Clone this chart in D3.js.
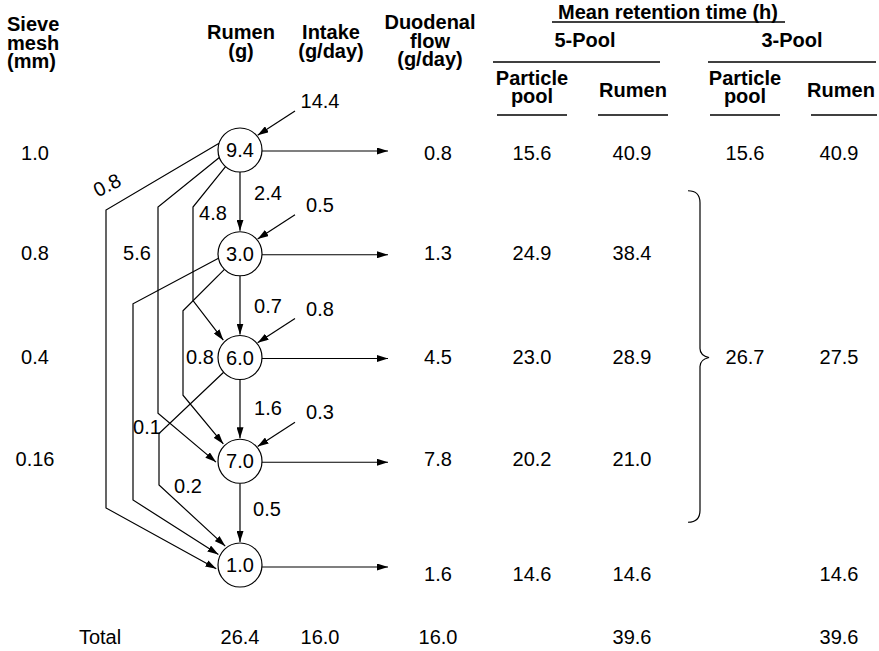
<!DOCTYPE html>
<html><head><meta charset="utf-8">
<script src="https://cdn.jsdelivr.net/npm/d3@7"></script>
<style>body{margin:0;background:#fff}</style>
</head><body>
<svg id="c" width="879" height="651"></svg>
<script>
// ---------------- DATA ----------------
const sieveMesh    = ["1.0", "0.8", "0.4", "0.16"];          // rows 0-3
const rumenPool    = [9.4, 3.0, 6.0, 7.0, 1.0];               // g, pools 0-4
const intake       = [14.4, 0.5, 0.8, 0.3];                   // g/day into pools 0-3
const duodenalFlow = [0.8, 1.3, 4.5, 7.8, 1.6];               // g/day
const mrt5Particle = [15.6, 24.9, 23.0, 20.2, 14.6];
const mrt5Rumen    = [40.9, 38.4, 28.9, 21.0, 14.6];
const mrt3Particle = [15.6, null, 26.7, null, null];          // 26.7 spans rows 1-3
const mrt3Rumen    = [40.9, null, 27.5, null, 14.6];
const totalCols    = ["label", "pool", "intake", "duodenal", "r5", "r3"];
const totalValues  = ["Total", "26.4", "16.0", "16.0", "39.6", "39.6"];
const flows = [
  {from: 0, to: 1, value: 2.4},
  {from: 1, to: 2, value: 0.7},
  {from: 2, to: 3, value: 1.6},
  {from: 3, to: 4, value: 0.5},
  {from: 0, to: 2, value: 4.8},
  {from: 0, to: 3, value: 5.6},
  {from: 0, to: 4, value: 0.8},
  {from: 1, to: 3, value: 0.8},
  {from: 1, to: 4, value: 0.1},
  {from: 2, to: 4, value: 0.2}
];

// ---------------- LAYOUT ----------------
const FONT = '"Liberation Sans", Arial, Helvetica, sans-serif';
const svg = d3.select("#c");
const y = d3.scaleLinear().domain([0, 4]).range([150, 565]);
const rowY = d3.scaleOrdinal().domain([0, 1, 2, 3, 4, "total"]).range([153, 253, 357, 459, 574, 637]);
const x = d3.scaleOrdinal()
  .domain(["sieve", "label", "pool", "intake", "duodenal", "p5", "r5", "p3", "r3"])
  .range([35, 100, 240, 320, 438, 532, 632, 745, 839]);
const R = 22, deg = Math.PI / 180;
const onCircle = (i, a, r = R) => [x("pool") + r * Math.cos(a * deg), y(i) + r * Math.sin(a * deg)];

// routing for flows: start angle, lane offset, bends, end angle, label offset
const routes = {
  "0-1": {label: [28, 43]},
  "1-2": {label: [28, 52]},
  "2-3": {label: [28, 50]},
  "3-4": {label: [27, 48]},
  "0-4": {a0: 198, lane: -134, d1: 60, d2: 57, a1: 171, label: [-133, 35], rot: -27},
  "0-3": {a0: 160, lane: -82,  d1: 57, d2: 48, a1: 178, label: [-103, 103]},
  "0-2": {a0: 131, lane: -47,  d1: 57, d2: 57, a1: 226, label: [-27, 63]},
  "1-3": {a0: 135, lane: -57,  d1: 57, d2: 66, a1: 226, label: [-40, 103]},
  "1-4": {a0: 168, lane: -107, d1: 50, d2: 65, a1: 206, label: [-93, 173]},
  "2-4": {a0: 138, lane: -81,  d1: 76, d2: 80, a1: 232, label: [-52, 128]}
};

svg.append("defs").append("marker")
  .attr("id", "ah").attr("viewBox", "0 0 11 7")
  .attr("refX", 11).attr("refY", 3.5)
  .attr("markerWidth", 11).attr("markerHeight", 7)
  .attr("markerUnits", "userSpaceOnUse").attr("orient", "auto")
  .append("path").attr("d", "M0,0L11,3.5L0,7Z").attr("fill", "#000");

const line = d3.line();
const gLines = svg.append("g").attr("fill", "none").attr("stroke", "#000").attr("stroke-width", 1.2);

// flows between pools
flows.forEach(f => {
  const r = routes[f.from + "-" + f.to];
  let pts;
  if (f.to - f.from === 1) {
    pts = [[x("pool"), y(f.from) + R], [x("pool"), y(f.to) - R - 1]];
  } else {
    const lx = x("pool") + r.lane;
    pts = [onCircle(f.from, r.a0), [lx, y(f.from) + r.d1], [lx, y(f.to) - r.d2], onCircle(f.to, r.a1, R + 2)];
  }
  gLines.append("path").attr("d", line(pts)).attr("marker-end", "url(#ah)");
});

// duodenal outflow arrows
duodenalFlow.forEach((v, i) => {
  const yy = y(i) + (i === 4 ? 2 : 1);
  gLines.append("path").attr("d", line([[x("pool") + R, yy], [388, yy]]))
    .attr("marker-end", "url(#ah)");
});

// intake arrows
intake.forEach((v, i) => {
  gLines.append("path").attr("d", line([[x("pool") + 55, y(i) - 39], onCircle(i, -40, R + 1)]))
    .attr("marker-end", "url(#ah)");
});

// pools
const gNodes = svg.append("g");
gNodes.selectAll("circle").data(rumenPool).join("circle")
  .attr("cx", x("pool")).attr("cy", (d, i) => y(i)).attr("r", R)
  .attr("fill", "#fff").attr("stroke", "#000").attr("stroke-width", 1.2);

const txt = (g, s, cx, cy, opts = {}) => g.append("text")
  .attr("x", cx).attr("y", cy + 7).attr("text-anchor", opts.anchor || "middle")
  .attr("font-family", FONT).attr("font-size", opts.size || 20)
  .attr("font-weight", opts.bold ? "bold" : "normal")
  .attr("transform", opts.rot ? `rotate(${opts.rot},${cx},${cy})` : null)
  .text(s);

const gText = svg.append("g").attr("fill", "#000");
rumenPool.forEach((v, i) => txt(gText, v.toFixed(1), x("pool"), y(i)));

// flow labels
flows.forEach(f => {
  const r = routes[f.from + "-" + f.to];
  txt(gText, f.value.toFixed(1), x("pool") + r.label[0], y(f.from) + r.label[1], {rot: r.rot});
});
// intake labels
intake.forEach((v, i) => txt(gText, v.toFixed(1), x("intake"), y(i) - 49));

// table values
sieveMesh.forEach((v, i) => txt(gText, v, x("sieve"), rowY(i)));
duodenalFlow.forEach((v, i) => txt(gText, v.toFixed(1), x("duodenal"), rowY(i)));
mrt5Particle.forEach((v, i) => txt(gText, v.toFixed(1), x("p5"), rowY(i)));
mrt5Rumen.forEach((v, i) => txt(gText, v.toFixed(1), x("r5"), rowY(i)));
mrt3Particle.forEach((v, i) => { if (v != null) txt(gText, v.toFixed(1), x("p3"), rowY(i)); });
mrt3Rumen.forEach((v, i) => { if (v != null) txt(gText, v.toFixed(1), x("r3"), rowY(i)); });
totalValues.forEach((v, k) => txt(gText, v, x(totalCols[k]), rowY("total")));

// brace for 3-pool particle (rows 1-3)
const bx = 700, bt = y(1) - 63, bb = y(3) + 61, bm = y(2);
gLines.append("path").attr("d",
  `M${bx - 12},${bt} Q${bx},${bt} ${bx},${bt + 12} L${bx},${bm - 9} Q${bx},${bm - 2} ${bx + 9},${bm}` +
  ` Q${bx},${bm + 2} ${bx},${bm + 9} L${bx},${bb - 12} Q${bx},${bb} ${bx - 12},${bb}`);

// headers
const gHead = svg.append("g").attr("fill", "#000");
const head = (lines, cx, baselines, anchor) => lines.forEach((s, k) =>
  gHead.append("text").attr("x", cx).attr("y", baselines[k]).attr("text-anchor", anchor || "middle")
    .attr("font-family", FONT).attr("font-size", 20).attr("font-weight", "bold").text(s));
head(["Sieve", "mesh", "(mm)"], 7, [31, 49.5, 68], "start");
head(["Rumen", "(g)"], 241, [39, 57.5]);
head(["Intake", "(g/day)"], 331, [39, 57.5]);
head(["Duodenal", "flow", "(g/day)"], 430, [29, 47.5, 66]);
head(["Mean retention time (h)"], 668, [19]);
head(["5-Pool"], 585, [47]);
head(["3-Pool"], 792, [47]);
head(["Particle", "pool"], 532, [84.5, 103]);
head(["Rumen"], 633, [97]);
head(["Particle", "pool"], 745, [84.5, 103]);
head(["Rumen"], 841, [97]);

const rules = [[552, 785, 22], [493, 660, 62], [708, 876, 62], [497, 567, 115], [598, 668, 115], [710, 780, 115], [811, 877, 115]];
svg.append("g").attr("stroke", "#000").attr("stroke-width", 1.6)
  .selectAll("line").data(rules).join("line")
  .attr("x1", d => d[0]).attr("x2", d => d[1]).attr("y1", d => d[2]).attr("y2", d => d[2]);
</script>
</body></html>
